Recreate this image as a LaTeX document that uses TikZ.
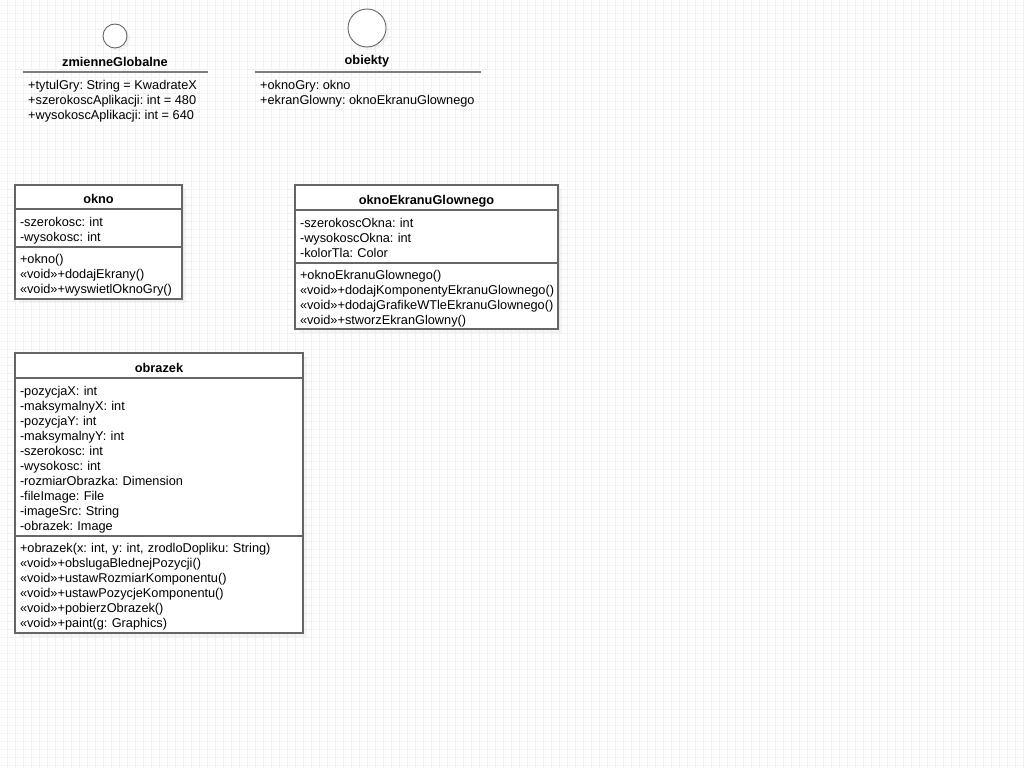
\documentclass[tikz,border=0pt]{standalone}
\usepackage{fontspec}
\setmainfont{Liberation Sans}
\usetikzlibrary{positioning,shadows}
\frenchspacing

\definecolor{ramka}{HTML}{666666}
\definecolor{siatka}{HTML}{F1F1F1}

\newcommand{\umlfont}{\fontsize{12.75}{15}\selectfont}

\tikzset{
  klasa/.style={draw=ramka, line width=1.4pt, fill=white, outer sep=0pt,
    inner xsep=5pt, inner ysep=0pt,
    drop shadow={opacity=0.08, shadow xshift=4pt, shadow yshift=-4pt}},
  tytul/.style={klasa, font=\umlfont\bfseries, align=center, anchor=north west,
    execute at begin node={\rule[-3pt]{0pt}{19pt}}},
  sekcja/.style={klasa, align=left, anchor=north west,
    execute at begin node={\rule{0pt}{14pt}}, execute at end node={\rule[-3pt]{0pt}{3pt}}},
  interfejs/.style={circle, draw=ramka, line width=0.9pt, fill=white, inner sep=0pt,
    drop shadow={opacity=0.08, shadow xshift=3pt, shadow yshift=-3pt}},
  linia/.style={draw=ramka!85, line width=1.6pt},
  pola/.style={anchor=west, align=left, inner xsep=5pt, inner ysep=0pt,
    execute at begin node={\rule{0pt}{18.5pt}}, execute at end node={\rule[-3pt]{0pt}{3pt}}},
}

\begin{document}
\begin{tikzpicture}[x=1pt, y=-1pt, font=\umlfont]
	\useasboundingbox[fill=white] (0,0) rectangle (1024,768);
	% siatka w tle
	\foreach \gx in {7,15,...,1023}
		\draw[siatka, line width=0.8pt] (\gx,0) -- (\gx,768);
	\foreach \gy in {5,13,...,767}
		\draw[siatka, line width=0.8pt] (0,\gy) -- (1024,\gy);

	% zmienneGlobalne
	\node[interfejs, minimum size=24pt](zmKolo) at (115,36) {};
	\node[font=\umlfont\bfseries](zm) at (115,61.5) {zmienneGlobalne};
	\coordinate (zmL) at (23,72);
	\coordinate (zmP) at (208,72);
	\draw[linia] (zmL) -- (zmP);
	\node[pola](zmAtr) at (23,101) {+tytulGry: String = KwadrateX\\+szerokoscAplikacji: int = 480\\+wysokoscAplikacji: int = 640};

	% obiekty
	\node[interfejs, minimum size=38pt](obKolo) at (367,28) {};
	\node[font=\umlfont\bfseries](ob) at (367,61.5) {obiekty};
	\coordinate (obL) at (255,72);
	\coordinate (obP) at (481,72);
	\draw[linia] (obL) -- (obP);
	\node[pola](obAtr) at (255,93.5) {+oknoGry: okno\\+ekranGlowny: oknoEkranuGlownego};

	% okno
	\node[tytul, text width=157pt, minimum height=24pt](okno) at (15,185) {okno};
	\node[sekcja, text width=157pt, minimum height=38pt, below=0pt of okno.south west, anchor=north west](oknoAtr) {-szerokosc: int\\-wysokosc: int};
	\node[sekcja, text width=157pt, minimum height=52pt, below=0pt of oknoAtr.south west, anchor=north west](oknoMet) {+okno()\\«void»+dodajEkrany()\\«void»+wyswietlOknoGry()};

	% oknoEkranuGlownego
	\node[tytul, text width=253pt, minimum height=25pt](ekran) at (295,185) {oknoEkranuGlownego};
	\node[sekcja, text width=253pt, minimum height=53pt, below=0pt of ekran.south west, anchor=north west](ekranAtr) {-szerokoscOkna: int\\-wysokoscOkna: int\\-kolorTla: Color};
	\node[sekcja, text width=253pt, minimum height=66pt, below=0pt of ekranAtr.south west, anchor=north west](ekranMet) {+oknoEkranuGlownego()\\«void»+dodajKomponentyEkranuGlownego()\\«void»+dodajGrafikeWTleEkranuGlownego()\\«void»+stworzEkranGlowny()};

	% obrazek
	\node[tytul, text width=278pt, minimum height=25pt](obrazek) at (15,353) {obrazek};
	\node[sekcja, text width=278pt, minimum height=158pt, below=0pt of obrazek.south west, anchor=north west](obrazekAtr) {-pozycjaX: int\\-maksymalnyX: int\\-pozycjaY: int\\-maksymalnyY: int\\-szerokosc: int\\-wysokosc: int\\-rozmiarObrazka: Dimension\\-fileImage: File\\-imageSrc: String\\-obrazek: Image};
	\node[sekcja, text width=278pt, minimum height=97pt, below=0pt of obrazekAtr.south west, anchor=north west](obrazekMet) {+obrazek(x: int, y: int, zrodloDopliku: String)\\«void»+obslugaBlednejPozycji()\\«void»+ustawRozmiarKomponentu()\\«void»+ustawPozycjeKomponentu()\\«void»+pobierzObrazek()\\«void»+paint(g: Graphics)};
\end{tikzpicture}
\end{document}
